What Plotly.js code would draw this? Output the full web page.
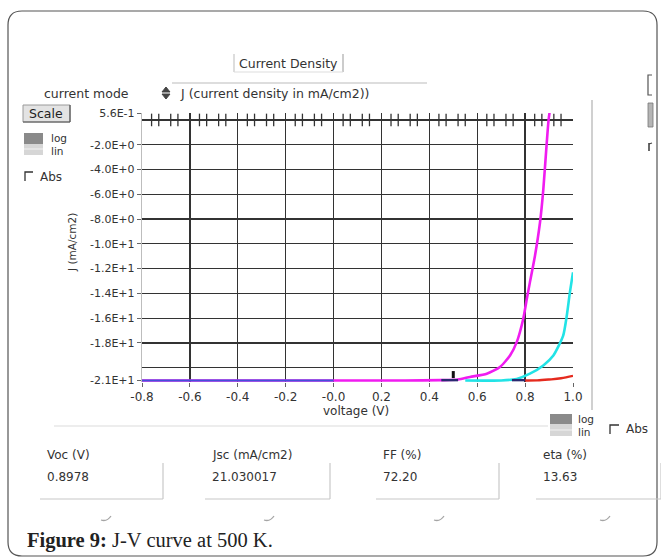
<!DOCTYPE html>
<html><head><meta charset="utf-8">
<script src="https://cdn.plot.ly/plotly-3.0.1.min.js"></script>
<style>html,body{margin:0;padding:0;background:#fff;}#chart{width:661px;height:557px;}</style>
</head><body><div id="chart"></div>
<script>
// ---- data ----
const xTickVals = [-0.8,-0.6,-0.4,-0.2,0.0,0.2,0.4,0.6,0.8,1.0];
const xTickText = ["-0.8","-0.6","-0.4","-0.2","-0.0","0.2","0.4","0.6","0.8","1.0"];
const yTickVals = [0.56,-2,-4,-6,-8,-10,-12,-14,-16,-18,-21];
const yTickText = ["5.6E-1","-2.0E+0","-4.0E+0","-6.0E+0","-8.0E+0","-1.0E+1","-1.2E+1","-1.4E+1","-1.6E+1","-1.8E+1","-2.1E+1"];
const xGridVals = [-0.6,-0.4,-0.2,0.0,0.2,0.4,0.6,0.8];
const yGridVals = [-20,-18,-16,-14,-12,-10,-8,-6,-4,-2];
const zeroTickX = [-0.76,-0.73,-0.68,-0.65,-0.56,-0.53,-0.48,-0.45,-0.36,-0.33,-0.28,-0.25,-0.16,-0.13,-0.08,-0.05,
  0.04,0.07,0.12,0.15,0.24,0.27,0.32,0.35,0.44,0.47,0.52,0.55,0.64,0.67,0.72,0.75,0.84,0.87,0.92,0.95];
const zeroTickY = zeroTickX.map(() => 0);

const magentaV = [-0.8,0.0,0.3,0.45,0.52,0.57,0.64,0.695,0.737,0.765,0.792,0.807,0.82,0.841,0.862,0.876,0.89,0.898,0.905];
const magentaJ = [-21.03,-21.03,-21.03,-21.0,-20.95,-20.74,-20.48,-19.94,-19.01,-17.93,-16.06,-14.46,-13.11,-10.98,-8.30,-5.62,-1.93,0.0,1.0];
const cyanV = [0.55,0.70,0.765,0.82,0.876,0.918,0.959,0.974,0.987,1.0];
const cyanJ = [-21.03,-21.03,-20.9,-20.48,-19.81,-19.01,-17.40,-15.80,-13.92,-12.3];
const redV = [0.8,0.85,0.9,0.95,1.0];
const redJ = [-21.03,-21.02,-20.95,-20.85,-20.65];
const blueV = [-0.8,0.0];
const blueJ = [-21.03,-21.03];
const darkV = [0.45,0.52,null,0.745,0.80];
const darkJ = [-21.0,-21.0,null,-21.0,-21.0];
const cursorV = [0.5];
const cursorJ = [-20.55];

const resultLabels = ["Voc (V)","Jsc (mA/cm2)","FF (%)","eta (%)"];
const resultValues = ["0.8978","21.030017","72.20","13.63"];

// ---- layout helpers (pixel -> paper) ----
const L=142, R=88, T=113, B=175, W=661, H=557;
const PW=W-L-R, PH=H-T-B;
const X = px => (px-L)/PW;
const Y = py => (H-B-py)/PH;
const UI = "DejaVu Sans, Verdana, sans-serif";

const traces = [
  {x:zeroTickX, y:zeroTickY, xaxis:'x2', yaxis:'y2', mode:'markers', hoverinfo:'skip',
   marker:{symbol:'line-ns', size:9, line:{width:1.3, color:'#333'}}},
  {x:magentaV, y:magentaJ, mode:'lines', line:{color:'#f01cf0', width:2.6, shape:'spline', smoothing:0.6}},
  {x:cyanV, y:cyanJ, mode:'lines', line:{color:'#22e3e6', width:2.6, shape:'spline', smoothing:0.6}},
  {x:redV, y:redJ, mode:'lines', line:{color:'#e52a1e', width:2.4, shape:'spline'}},
  {x:blueV, y:blueJ, mode:'lines', line:{color:'#4450d8', width:2.0}},
  {x:darkV, y:darkJ, mode:'lines', line:{color:'#2a2a70', width:2.4}, connectgaps:false},
  {x:cursorV, y:cursorJ, mode:'markers', marker:{symbol:'line-ns', size:5, line:{width:3, color:'#111'}}}
];

const ann = [];
function txt(t, px, py, size, xa, extra){
  ann.push(Object.assign({text:t, x:X(px), y:Y(py), xref:'paper', yref:'paper', showarrow:false,
    xanchor:xa||'left', yanchor:'middle', font:{family:UI, size:size, color:'#333'}}, extra||{}));
}
txt("Current Density", 288, 63, 12.5, 'center');
txt("current mode", 86, 93, 12.5, 'center');
txt("J (current density in mA/cm2))", 178, 93, 12.5, 'left');
txt("Scale", 46, 113, 12.5, 'center', {font:{family:UI,size:12.5,color:'#222'}});
txt("log", 49, 138, 10.5, 'left');
txt("lin", 49, 151, 10.5, 'left');
txt("Abs", 38, 177, 12, 'left');
txt("J (mA/cm2)", 72, 243, 10.5, 'center', {textangle:-90});
txt("voltage (V)", 356, 411, 12, 'center');
txt("log", 576, 419, 10.5, 'left');
txt("lin", 576, 432, 10.5, 'left');
txt("Abs", 624, 429, 12, 'left');
const colX = [45, 210, 381, 541];
resultLabels.forEach((s,i)=>txt(s, colX[i], 455, 12, 'left'));
resultValues.forEach((s,i)=>txt(s, colX[i], 477, 12, 'left'));
ann.push({text:"<b>Figure 9:</b> J-V curve at 500 K.", x:X(25), y:Y(540), xref:'paper', yref:'paper',
  showarrow:false, xanchor:'left', yanchor:'middle', font:{family:"Liberation Serif, serif", size:20.5, color:'#222'}});

const shp = [];
function rect(x0,y0,x1,y1,fill,lc,lw){
  shp.push({type:'rect', xref:'paper', yref:'paper', x0:X(x0), x1:X(x1), y0:Y(y1), y1:Y(y0),
    fillcolor:fill||'rgba(0,0,0,0)', line:{color:lc||'rgba(0,0,0,0)', width:lw||0}});
}
function path(d, lc, lw, fill){
  shp.push({type:'path', xref:'paper', yref:'paper', path:d, line:{color:lc, width:lw}, fillcolor:fill||'rgba(0,0,0,0)'});
}
function seg(x0,y0,x1,y1,lc,lw){
  shp.push({type:'line', xref:'paper', yref:'paper', x0:X(x0), y0:Y(y0), x1:X(x1), y1:Y(y1), line:{color:lc, width:lw}});
}
function P(px,py){ return X(px).toFixed(5)+','+Y(py).toFixed(5); }

// outer rounded frame
const r=14, fx0=8, fy0=11, fx1=657, fy1=556;
path('M'+P(fx0+r,fy0)+' L'+P(fx1-r,fy0)+' Q'+P(fx1,fy0)+' '+P(fx1,fy0+r)+' L'+P(fx1,fy1-r)+' Q'+P(fx1,fy1)+' '+P(fx1-r,fy1)+
     ' L'+P(fx0+r,fy1)+' Q'+P(fx0,fy1)+' '+P(fx0,fy1-r)+' L'+P(fx0,fy0+r)+' Q'+P(fx0,fy0)+' '+P(fx0+r,fy0)+' Z', '#555', 1.2);

// Current Density box edges
seg(234,54,234,72,'#bbb',1); seg(343,54,343,72,'#999',1); seg(234,72,343,72,'#ddd',1);
// combobox top line
seg(172,83,427,83,'#bbb',1);
// spinner arrows
path('M'+P(162,92)+' L'+P(170,92)+' L'+P(166,87)+' Z','#444',1,'#444');
path('M'+P(162,94)+' L'+P(170,94)+' L'+P(166,99)+' Z','#444',1,'#444');
// Scale button
rect(23,105,70,122,'#e3e3e3','#9a9a9a',1);
seg(70,105,70,122,'#555',1.2); seg(23,122,70,122,'#555',1.2);
// log/lin toggles
rect(24,133,43,144,'#8a8a8a'); rect(24,144,43,155,'#d6d6d6'); seg(24,149,43,149,'#f2f2f2',1);
rect(550,414,572,424,'#8a8a8a'); rect(550,424,572,436,'#d6d6d6'); seg(550,430,572,430,'#f2f2f2',1);
// checkboxes
path('M'+P(25,181)+' L'+P(25,172)+' L'+P(33,172),'#333',1.3);
path('M'+P(610,434)+' L'+P(610,425)+' L'+P(619,425),'#333',1.3);
// panel dividers
seg(592,100,592,410,'#d0d0d0',2);
seg(54,426,548,426,'#dcdcdc',1.2);
// cut-off elements at right
path('M'+P(652,75)+' L'+P(648,75)+' L'+P(648,95)+' L'+P(652,95),'#555',1.2);
rect(648,103,653,127,'#b5b5b5','#777',0.8);
seg(649,143,649,151,'#444',1.6); seg(649,144,652,143,'#444',1.2);
// result boxes (sunken edges) and spinners
const boxR = [163, 330, 499, 661];
colX.forEach((x,i)=>{
  seg(x-5,499,boxR[i],499,'#c8c8c8',1.2);
  seg(boxR[i],463,boxR[i],499,'#c8c8c8',1.2);
});
[107,270,440,606].forEach(x=>{
  path('M'+P(x-6,520)+' Q'+P(x,522)+' '+P(x+4,516),'#a5a5a5',1.3);
});

const layout = {
  width:W, height:H, margin:{l:L, r:R, t:T, b:B}, paper_bgcolor:'#fff', plot_bgcolor:'#fff',
  showlegend:false, hovermode:false,
  xaxis:{range:[-0.8,1.0], tickmode:'array', tickvals:xTickVals, ticktext:xTickText, showgrid:false, zeroline:false,
    ticks:'outside', ticklen:4, tickcolor:'#666', showline:false, tickfont:{family:UI, size:12, color:'#333'}},
  xaxis2:{range:[-0.8,1.0], overlaying:'x', tickmode:'array', tickvals:xGridVals, showgrid:true, gridcolor:'#333',
    gridwidth:1.3, showticklabels:false, ticks:'', zeroline:false, showline:false},
  yaxis:{range:[-21.15,0.56], tickmode:'array', tickvals:yTickVals, ticktext:yTickText, showgrid:false,
    zeroline:true, zerolinecolor:'#333', zerolinewidth:1.3, showline:true, linecolor:'#bdbdbd', linewidth:1.2,
    ticks:'outside', ticklen:4, tickcolor:'#666', tickfont:{family:UI, size:11, color:'#333'}},
  yaxis2:{range:[-21.15,0.56], overlaying:'y', tickmode:'array', tickvals:yGridVals, showgrid:true, gridcolor:'#333',
    gridwidth:1.3, showticklabels:false, ticks:'', zeroline:false, showline:false},
  annotations:ann, shapes:shp
};
Plotly.newPlot('chart', traces, layout, {displayModeBar:false, staticPlot:true});
</script></body></html>
